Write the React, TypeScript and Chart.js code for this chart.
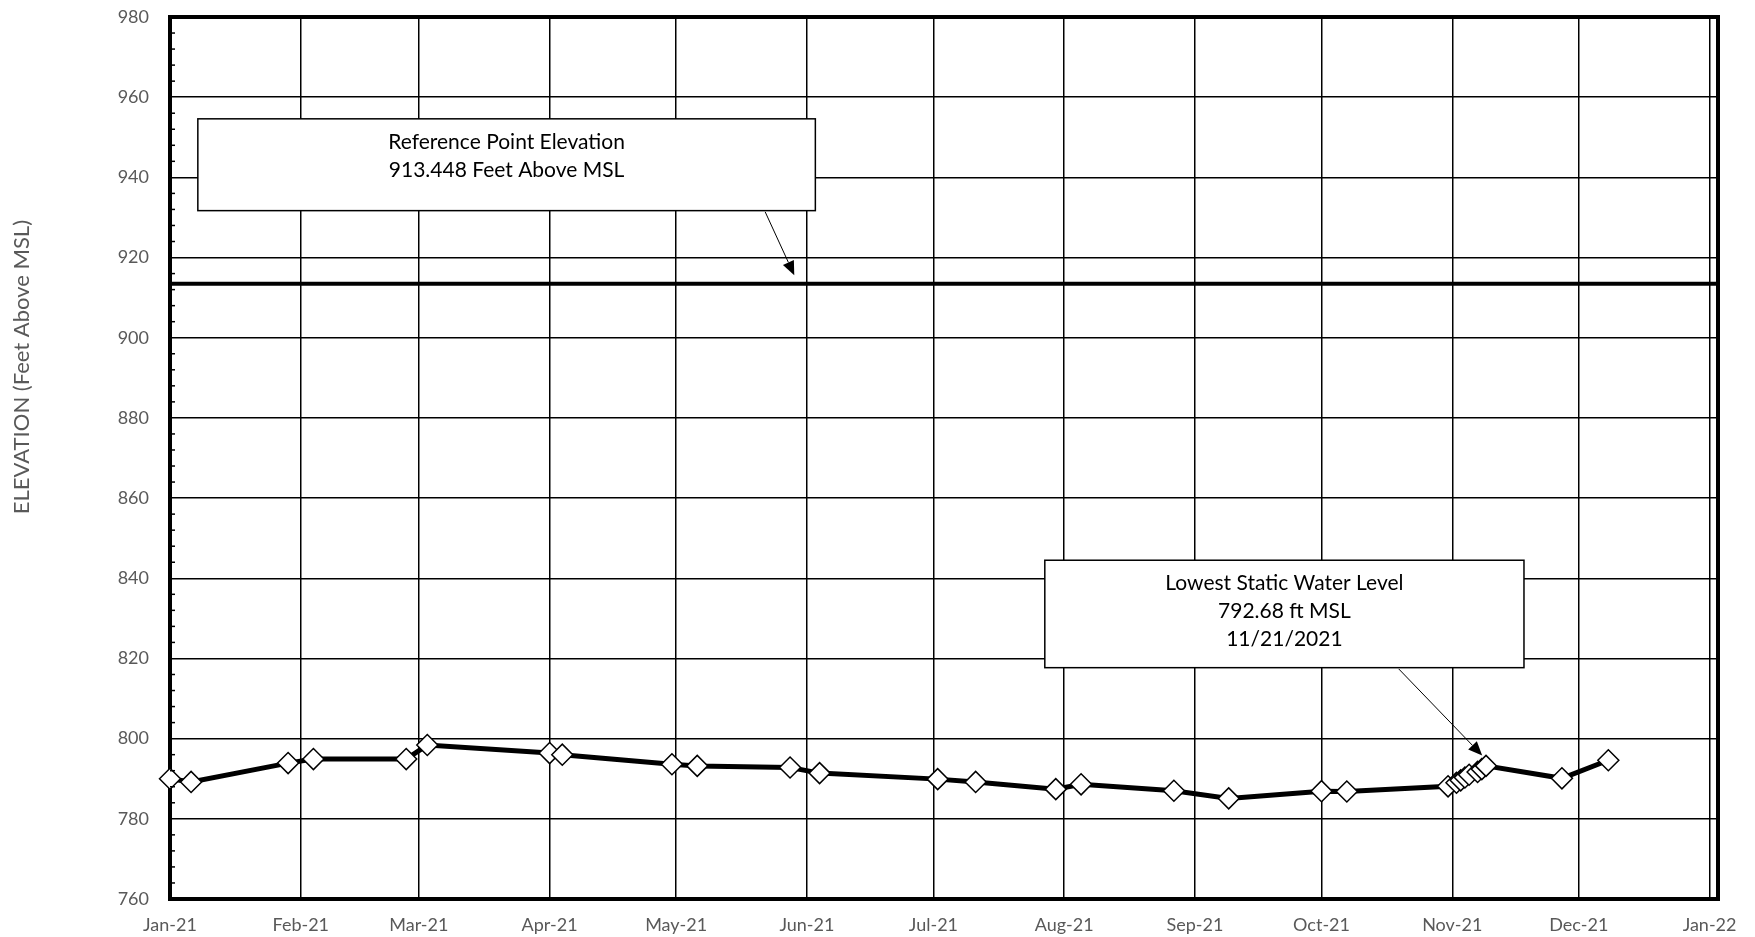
import React, { useEffect, useRef } from 'react';
import { Chart, registerables } from 'chart.js';

Chart.register(...registerables);

// ---------- data ----------
const sampleDates = [
  '2021-01-01', '2021-01-06', '2021-01-29', '2021-02-04', '2021-02-26', '2021-03-03',
  '2021-04-01', '2021-04-04', '2021-04-30', '2021-05-06', '2021-05-28', '2021-06-04',
  '2021-07-02', '2021-07-11', '2021-07-30', '2021-08-05', '2021-08-27', '2021-09-09',
  '2021-10-01', '2021-10-07', '2021-10-31',
  '2021-11-02', '2021-11-03', '2021-11-04', '2021-11-05', '2021-11-07', '2021-11-08', '2021-11-09',
  '2021-11-27', '2021-12-08',
];
const waterElevations = [
  790.0, 789.2, 793.9, 794.9, 794.9, 798.4,
  796.4, 796.0, 793.6, 793.2, 792.8, 791.4,
  789.9, 789.2, 787.4, 788.6, 787.0, 785.1,
  786.9, 786.8, 788.1,
  789.0, 789.6, 790.3, 791.0, 791.7, 792.4, 793.2,
  790.1, 794.6,
];
const monthTickDates = [
  '2021-01-01', '2021-02-01', '2021-03-01', '2021-04-01', '2021-05-01', '2021-06-01', '2021-07-01',
  '2021-08-01', '2021-09-01', '2021-10-01', '2021-11-01', '2021-12-01', '2022-01-01',
];
const monthTickLabels = [
  'Jan-21', 'Feb-21', 'Mar-21', 'Apr-21', 'May-21', 'Jun-21', 'Jul-21',
  'Aug-21', 'Sep-21', 'Oct-21', 'Nov-21', 'Dec-21', 'Jan-22',
];
const referenceElevation = 913.448;
const axisStartDate = '2021-01-01';
const axisEndDate = '2022-01-03';
const yMin = 760;
const yMax = 980;
const yMajorStep = 20;
const yMinorStep = 4;
const yAxisTitle = 'ELEVATION (Feet Above MSL)';
const refNoteLines = ['Reference Point Elevation', '913.448 Feet Above MSL'];
const lowNoteLines = ['Lowest Static Water Level', '792.68 ft MSL', '11/21/2021'];

// ---------- helpers ----------
const DAY = 86400000;
const dayOf = (s: string) => (Date.parse(s + 'T00:00:00Z') - Date.parse(axisStartDate + 'T00:00:00Z')) / DAY;
const monthTickDays = monthTickDates.map(dayOf);
const axisEndDay = dayOf(axisEndDate);

// annotation geometry in data units (x: day index, y: feet)
const refBox = { x0: 6.6, x1: 153, y0: 954.6, y1: 931.7 };
const refArrow = { x0: 141.1, y0: 931.4, x1: 148.0, y1: 915.6 };
const lowBox = { x0: 207.4, x1: 321.0, y0: 844.5, y1: 817.7 };
const lowArrow = { x0: 291.3, y0: 817.4, x1: 311.1, y1: 795.8 };

const FONT = 'Lato, "Open Sans", sans-serif';
const GRAY = '#595959';

const drawArrow = (ctx: CanvasRenderingContext2D, x0: number, y0: number, x1: number, y1: number) => {
  const ang = Math.atan2(y1 - y0, x1 - x0);
  const headLen = 14;
  const headW = 6;
  const bx = x1 - Math.cos(ang) * headLen;
  const by = y1 - Math.sin(ang) * headLen;
  ctx.save();
  ctx.strokeStyle = '#000';
  ctx.fillStyle = '#000';
  ctx.lineWidth = 1;
  ctx.beginPath();
  ctx.moveTo(x0, y0);
  ctx.lineTo(bx, by);
  ctx.stroke();
  ctx.beginPath();
  ctx.moveTo(x1, y1);
  ctx.lineTo(bx + Math.sin(ang) * headW, by - Math.cos(ang) * headW);
  ctx.lineTo(bx - Math.sin(ang) * headW, by + Math.cos(ang) * headW);
  ctx.closePath();
  ctx.fill();
  ctx.restore();
};

const drawNote = (chart: any, box: any, lines: string[]) => {
  const { ctx, scales } = chart;
  const xs = scales.x;
  const ys = scales.y;
  const l = xs.getPixelForValue(box.x0);
  const r = xs.getPixelForValue(box.x1);
  const t = ys.getPixelForValue(box.y0);
  const b = ys.getPixelForValue(box.y1);
  ctx.save();
  ctx.fillStyle = '#fff';
  ctx.fillRect(l, t, r - l, b - t);
  ctx.strokeStyle = '#000';
  ctx.lineWidth = 1.5;
  ctx.strokeRect(l, t, r - l, b - t);
  ctx.fillStyle = '#000';
  ctx.font = `21px ${FONT}`;
  ctx.textAlign = 'center';
  ctx.textBaseline = 'middle';
  lines.forEach((ln, i) => ctx.fillText(ln, (l + r) / 2, t + 23 + i * 28));
  ctx.restore();
};

const decorPlugin = {
  id: 'decor',
  afterDatasetsDraw(chart: any) {
    const { ctx, chartArea, scales } = chart;
    const xs = scales.x;
    const ys = scales.y;
    // minor ticks inside the left axis
    ctx.save();
    ctx.strokeStyle = '#000';
    ctx.lineWidth = 1.5;
    for (let v = yMin; v <= yMax; v += yMinorStep) {
      if (v % yMajorStep === 0) continue;
      const py = ys.getPixelForValue(v);
      ctx.beginPath();
      ctx.moveTo(chartArea.left, py);
      ctx.lineTo(chartArea.left + 5, py);
      ctx.stroke();
    }
    // frame top and right
    ctx.lineWidth = 4;
    ctx.beginPath();
    ctx.moveTo(chartArea.left - 2, chartArea.top);
    ctx.lineTo(chartArea.right, chartArea.top);
    ctx.lineTo(chartArea.right, chartArea.bottom + 2);
    ctx.stroke();
    ctx.restore();

    drawNote(chart, refBox, refNoteLines);
    drawNote(chart, lowBox, lowNoteLines);
    drawArrow(ctx, xs.getPixelForValue(refArrow.x0), ys.getPixelForValue(refArrow.y0),
      xs.getPixelForValue(refArrow.x1), ys.getPixelForValue(refArrow.y1));
    drawArrow(ctx, xs.getPixelForValue(lowArrow.x0), ys.getPixelForValue(lowArrow.y0),
      xs.getPixelForValue(lowArrow.x1), ys.getPixelForValue(lowArrow.y1));

    // y axis title (reads bottom-to-top, its end near the top of the chart)
    ctx.save();
    ctx.font = `22px ${FONT}`;
    const w = ctx.measureText(yAxisTitle).width;
    ctx.translate(22, 220 + w / 2);
    ctx.rotate(-Math.PI / 2);
    ctx.fillStyle = GRAY;
    ctx.textAlign = 'center';
    ctx.textBaseline = 'middle';
    ctx.fillText(yAxisTitle, 0, 0);
    ctx.restore();
  },
};

export default function App() {
  const canvasRef = useRef<HTMLCanvasElement | null>(null);

  useEffect(() => {
    document.body.style.margin = '0';
    const canvas = canvasRef.current;
    if (!canvas) return;
    const points = sampleDates.map((d, i) => ({ x: dayOf(d), y: waterElevations[i] }));
    const refLine = [
      { x: 0, y: referenceElevation },
      { x: axisEndDay, y: referenceElevation },
    ];
    const chart = new Chart(canvas, {
      type: 'line',
      data: {
        datasets: [
          {
            label: 'Reference Point Elevation',
            data: refLine,
            borderColor: '#000',
            borderWidth: 4,
            pointRadius: 0,
            fill: false,
          },
          {
            label: 'Static Water Level',
            data: points,
            borderColor: '#000',
            borderWidth: 5,
            pointStyle: 'rectRot',
            pointRadius: 10.5,
            pointBorderWidth: 1.5,
            pointBackgroundColor: '#fff',
            pointBorderColor: '#000',
            fill: false,
            clip: false as any,
          },
        ],
      },
      options: {
        animation: false,
        responsive: true,
        maintainAspectRatio: false,
        layout: { padding: { top: 17, right: 37, left: 0, bottom: 0 } },
        plugins: {
          legend: { display: false },
          tooltip: { enabled: false },
          title: { display: false },
        },
        scales: {
          x: {
            type: 'linear',
            min: 0,
            max: axisEndDay,
            afterBuildTicks: (scale: any) => {
              scale.ticks = monthTickDays.map((v) => ({ value: v }));
            },
            afterFit: (scale: any) => {
              scale.height = 38;
            },
            ticks: {
              autoSkip: false,
              maxRotation: 0,
              minRotation: 0,
              padding: 15,
              color: GRAY,
              font: { family: FONT, size: 18 },
              callback: (value: any) => {
                const i = monthTickDays.indexOf(Number(value));
                return i >= 0 ? monthTickLabels[i] : '';
              },
            },
            grid: { color: '#000', lineWidth: 1.5, drawTicks: false },
            border: { display: true, color: '#000', width: 4 },
          },
          y: {
            type: 'linear',
            min: yMin,
            max: yMax,
            afterFit: (scale: any) => {
              scale.width = 170;
              scale.paddingTop = 0;
              scale.paddingBottom = 0;
            },
            ticks: {
              stepSize: yMajorStep,
              padding: 21,
              color: GRAY,
              font: { family: FONT, size: 18 },
            },
            grid: { color: '#000', lineWidth: 1.5, drawTicks: false },
            border: { display: true, color: '#000', width: 4 },
          },
        },
      },
      plugins: [decorPlugin],
    });
    return () => chart.destroy();
  }, []);

  return (
    <div style={{ width: 1755, height: 937, position: 'relative' }}>
      <canvas ref={canvasRef} />
    </div>
  );
}
